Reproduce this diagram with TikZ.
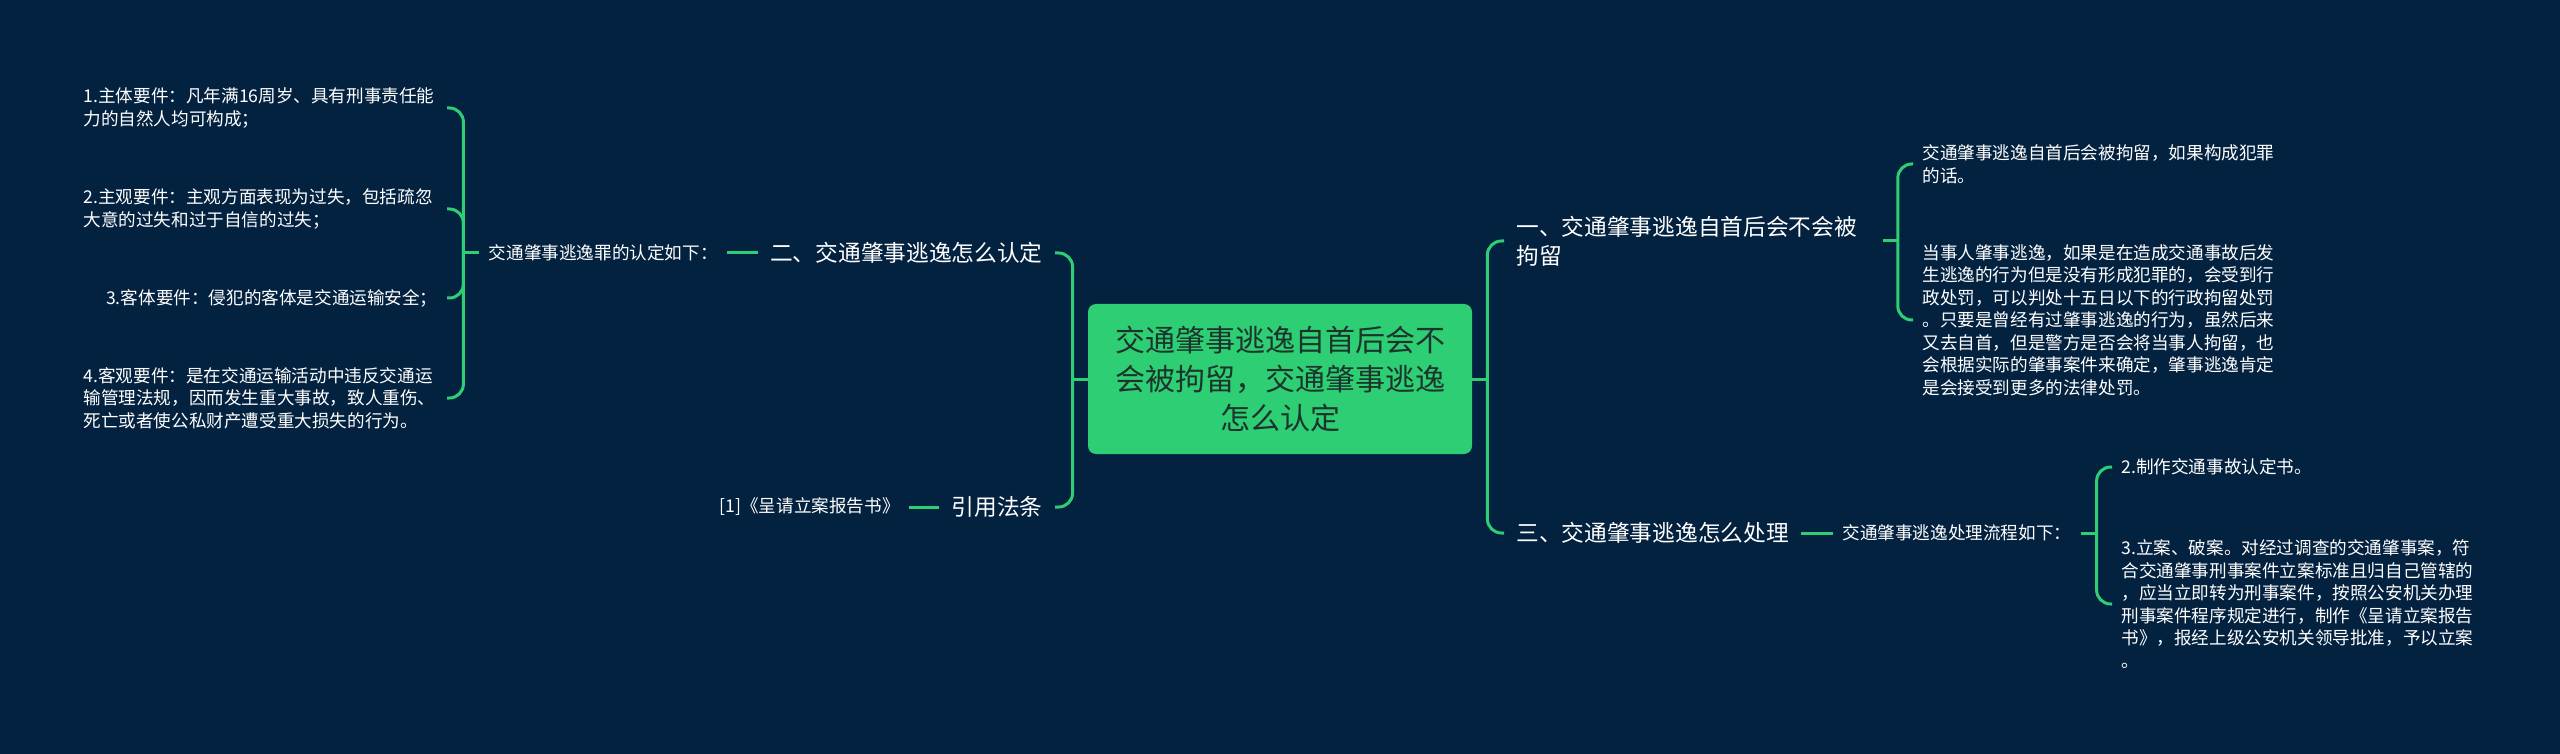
\documentclass[tikz,border=0pt]{standalone}
\usepackage{fontspec}
\setmainfont{Noto Sans CJK SC}
\usepackage{tikz}
\usetikzlibrary{positioning,calc}
\definecolor{bgnavy}{RGB}{3,34,64}
\definecolor{mapgreen}{RGB}{46,206,116}
\definecolor{roottext}{RGB}{28,52,44}

\begin{document}
\begin{tikzpicture}[
    x=0.5pt, y=-0.5pt,
    root/.style={rectangle, fill=mapgreen, rounded corners=4pt, minimum width=192pt, minimum height=75pt, align=center, text=roottext, font=\fontsize{15}{19.5}\selectfont},
    topic/.style={text=white, inner xsep=6pt, inner ysep=2pt, align=left, font=\fontsize{11.35}{14.5}\selectfont},
    leaf/.style={text=white, inner xsep=4.5pt, inner ysep=2pt, align=left, font=\fontsize{8.8}{11.25}\selectfont},
    wide/.style={text width=177pt},
    link/.style={draw=mapgreen, line width=1.5pt, rounded corners=7pt}
]
    \fill[bgnavy] (0,0) rectangle (2560,754);
    \useasboundingbox (0,0) rectangle (2560,754);

    \node[root] (root) at (1280,379) {交通肇事逃逸自首后会不\\会被拘留，交通肇事逃逸\\怎么认定};

    % main branches
    \node[topic, anchor=west, wide] (sec1) at (1504,241) {一、交通肇事逃逸自首后会不会被\\拘留};
    \node[topic, anchor=west] (sec3) at (1504,533) {三、交通肇事逃逸怎么处理};
    \node[topic, anchor=east] (sec2) at (1055,253) {二、交通肇事逃逸怎么认定};
    \node[topic, anchor=east] (cite) at (1055,507) {引用法条};

    % second level
    \node[leaf, anchor=east] (def) at (727,253) {交通肇事逃逸罪的认定如下：};
    \node[leaf, anchor=east] (ref) at (909,507) {[1]《呈请立案报告书》};
    \node[leaf, anchor=west] (flow) at (1833,533) {交通肇事逃逸处理流程如下：};

    % leaves
    \node[leaf, wide, anchor=east] (l1) at (447,108) {1.主体要件：凡年满16周岁、具有刑事责任能\\力的自然人均可构成；};
    \node[leaf, wide, anchor=east] (l2) at (447,209) {2.主观要件：主观方面表现为过失，包括疏忽\\大意的过失和过于自信的过失；};
    \node[leaf, anchor=east] (l3) at (447,298) {3.客体要件：侵犯的客体是交通运输安全；};
    \node[leaf, wide, anchor=east] (l4) at (447,398) {4.客观要件：是在交通运输活动中违反交通运\\输管理法规，因而发生重大事故，致人重伤、\\死亡或者使公私财产遭受重大损失的行为。};

    \node[leaf, wide, anchor=west] (r1) at (1913,164) {交通肇事逃逸自首后会被拘留，如果构成犯罪\\的话。};
    \node[leaf, wide, anchor=west] (r2) at (1913,320) {当事人肇事逃逸，如果是在造成交通事故后发\\生逃逸的行为但是没有形成犯罪的，会受到行\\政处罚，可以判处十五日以下的行政拘留处罚\\。只要是曾经有过肇事逃逸的行为，虽然后来\\又去自首，但是警方是否会将当事人拘留，也\\会根据实际的肇事案件来确定，肇事逃逸肯定\\是会接受到更多的法律处罚。};

    \node[leaf, anchor=west] (p1) at (2112,467) {2.制作交通事故认定书。};
    \node[leaf, wide, anchor=west] (p2) at (2112,604) {3.立案、破案。对经过调查的交通肇事案，符\\合交通肇事刑事案件立案标准且归自己管辖的\\，应当立即转为刑事案件，按照公安机关办理\\刑事案件程序规定进行，制作《呈请立案报告\\书》，报经上级公安机关领导批准，予以立案\\。};

    % junctions
    \coordinate (jl) at ([xshift=-7.5pt]root.west);
    \coordinate (jr) at ([xshift=7.5pt]root.east);
    \coordinate (jd) at ([xshift=-8pt]def.west);
    \coordinate (j1) at ([xshift=7.5pt]sec1.east);
    \coordinate (jf) at ([xshift=8pt]flow.east);

    \draw[link] (root.west) -- (jl);
    \draw[link] (root.east) -- (jr);
    \foreach \kid in {sec2,cite} \draw[link] (jl) |- (\kid.east);
    \foreach \kid in {sec1,sec3} \draw[link] (jr) |- (\kid.west);

    \draw[link] (sec2.west) -- (def.east);
    \draw[link] (cite.west) -- (ref.east);
    \draw[link] (sec3.east) -- (flow.west);

    \draw[link] (def.west) -- (jd);
    \foreach \kid in {l1,l2,l3,l4} \draw[link] (jd) |- (\kid.east);
    \draw[link] (sec1.east) -- (j1);
    \foreach \kid in {r1,r2} \draw[link] (j1) |- (\kid.west);
    \draw[link] (flow.east) -- (jf);
    \foreach \kid in {p1,p2} \draw[link] (jf) |- (\kid.west);
\end{tikzpicture}
\end{document}
